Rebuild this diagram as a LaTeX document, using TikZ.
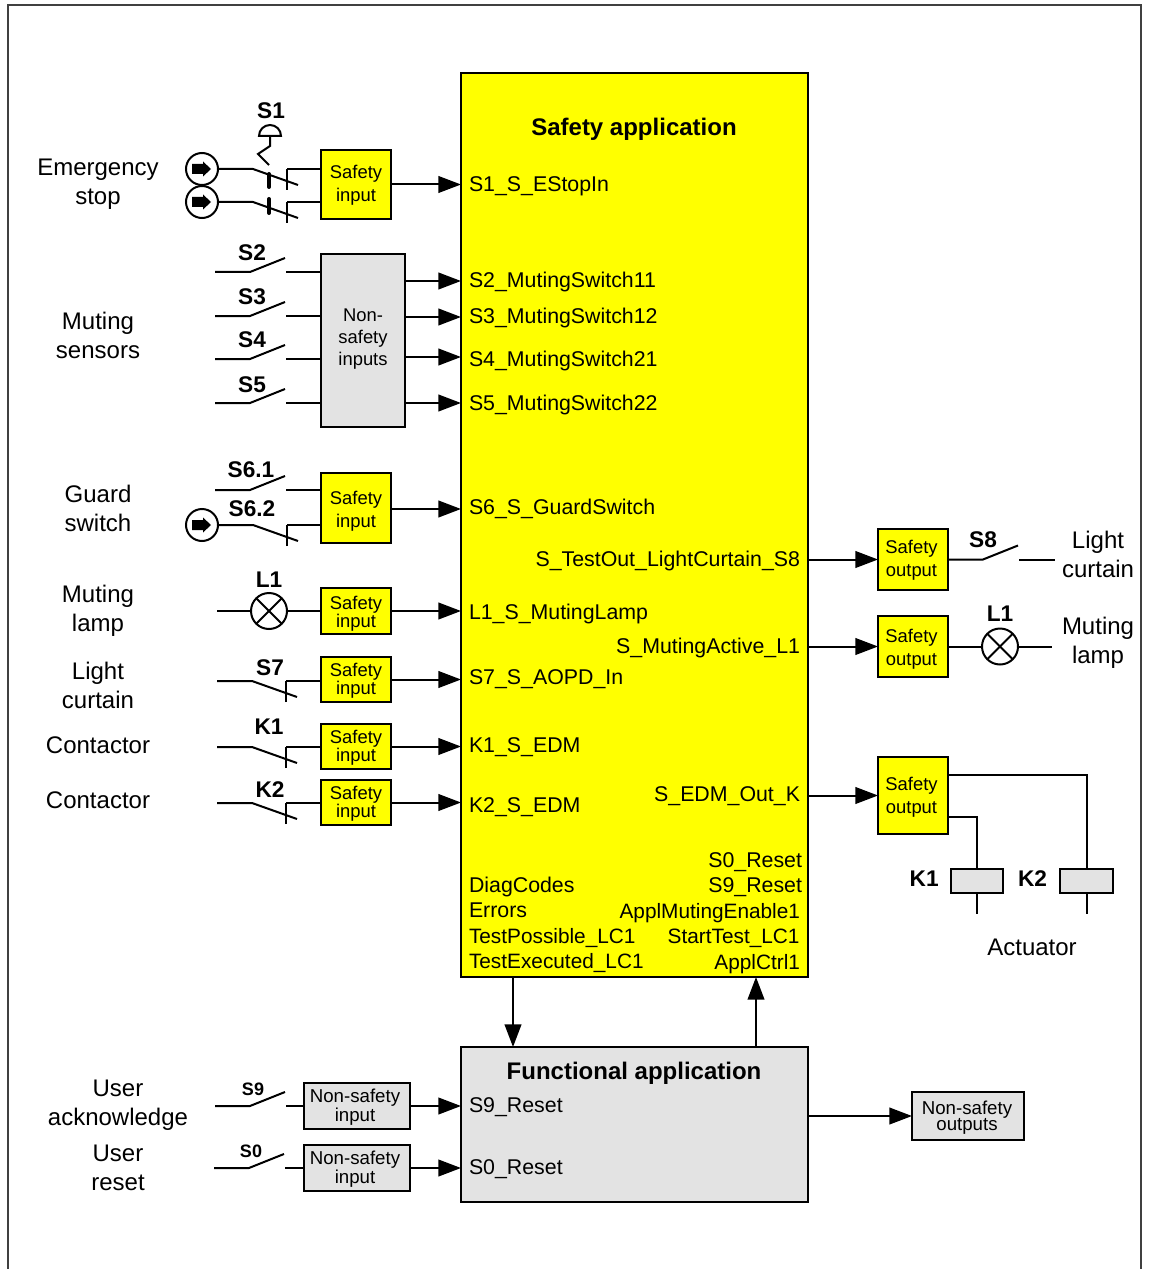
\documentclass[tikz,border=0pt]{standalone}
\usepackage{fontspec}
\setmainfont{Liberation Sans}
\usetikzlibrary{arrows.meta, positioning}
\definecolor{safeyellow}{RGB}{255,255,0}
\definecolor{cardgrey}{RGB}{227,227,227}

\begin{document}
\begin{tikzpicture}[
    x=.75pt, y=-.75pt,
    every node/.style={
        inner sep=0pt,
        outer sep=0pt,
        align=center
    },
    wire/.style={line width=1.5pt, draw=black},
    arrow/.style={wire, -{Triangle[length=17pt, width=12.5pt]}},
    label/.style={font=\fontsize{18}{21.75}\selectfont},
    tag/.style={font=\fontsize{17}{20}\selectfont\bfseries, text height=12.5pt, text depth=0pt},
    smalltag/.style={font=\fontsize{13.5}{16}\selectfont\bfseries, text height=10pt, text depth=0pt},
    title/.style={font=\fontsize{18}{21}\selectfont\bfseries},
    port/.style={font=\fontsize{16}{19}\selectfont, text height=14.5pt, text depth=3.4pt},
    narrow/.style={font=\fontsize{15.6}{19}\selectfont},
    iobox/.style={draw=black, line width=1.5pt, minimum width=52.5pt},
    yellowbox/.style={iobox, fill=safeyellow},
    greybox/.style={iobox, fill=cardgrey},
    nsbox/.style={greybox, minimum width=79.5pt, minimum height=34.5pt},
    looseio/.style={font=\fontsize{13.8}{17}\selectfont},
    tightio/.style={font=\fontsize{13.8}{12.6}\selectfont},
    nstext/.style={font=\fontsize{14}{12}\selectfont},
    coil/.style={draw=black, line width=1.5pt, fill=cardgrey, minimum width=39.5pt, minimum height=18pt},
    srcsym/.style={draw=black, line width=1.5pt, circle, minimum size=24pt, path picture={
        \fill[black, shift={(path picture bounding box.center)}]
            (-10,-5) -- (1,-5) -- (1,-7.5) -- (9,0) -- (1,7.5) -- (1,5) -- (-10,5) -- cycle;
    }},
    lampsym/.style={draw=black, line width=1.5pt, circle, minimum size=27pt, path picture={
        \draw[wire] (path picture bounding box.north west) -- (path picture bounding box.south east);
        \draw[wire] (path picture bounding box.north east) -- (path picture bounding box.south west);
    }},
    nocontact/.pic={
        \draw[wire] (0,0) -- (35,0) -- (70,-14);
        \coordinate (-out) at (71,0);
    },
    nccontact/.pic={
        \draw[wire] (0,0) -- (35,0) -- (80,16);
        \draw[wire] (69,21) -- (69,0);
        \coordinate (-out) at (69,0);
    }
]
\useasboundingbox (0,0) rectangle (1149,1269);

% ------------------------
% Outer frame
% ------------------------
\draw[draw=black!75, line width=1.1pt] (8,1269) -- (8,5) -- (1141,5) -- (1141,1269);

% ------------------------
% Main blocks
% ------------------------
\node (main) [draw=black, line width=1.5pt, fill=safeyellow, minimum width=260.25pt, minimum height=678pt] at (634.5,525) {};
\node (func) [draw=black, line width=1.5pt, fill=cardgrey, minimum width=260.25pt, minimum height=116.25pt] at (634.5,1124.5) {};
\node (safetitle) [title] at (634,129) {Safety application};
\node (functitle) [title] at (634,1073) {Functional application};

% ------------------------
% Ports of the safety application
% ------------------------
\node (p1) [port, anchor=west] at (469,184) {S1\_S\_EStopIn};
\node (p2) [port, anchor=west] at (469,280) {S2\_MutingSwitch11};
\node (p3) [port, anchor=west] at (469,316) {S3\_MutingSwitch12};
\node (p4) [port, anchor=west] at (469,359) {S4\_MutingSwitch21};
\node (p5) [port, anchor=west] at (469,403) {S5\_MutingSwitch22};
\node (p6) [port, anchor=west] at (469,507) {S6\_S\_GuardSwitch};
\node (p7) [port, anchor=west] at (469,612.5) {L1\_S\_MutingLamp};
\node (p8) [port, anchor=west] at (469,677) {S7\_S\_AOPD\_In};
\node (p9) [port, anchor=west] at (469,745) {K1\_S\_EDM};
\node (p10) [port, anchor=west] at (469,805) {K2\_S\_EDM};
\node (diag) [port, anchor=west] at (469,885) {DiagCodes};
\node (errors) [port, anchor=west] at (469,910) {Errors};
\node (testposs) [port, narrow, anchor=west] at (469,936) {TestPossible\_LC1};
\node (testexec) [port, narrow, anchor=west] at (469,961) {TestExecuted\_LC1};
\node (q1) [port, anchor=east] at (800,559) {S\_TestOut\_LightCurtain\_S8};
\node (q2) [port, anchor=east] at (800,646) {S\_MutingActive\_L1};
\node (q3) [port, anchor=east] at (800,794) {S\_EDM\_Out\_K};
\node (r0) [port, anchor=east] at (802,860) {S0\_Reset};
\node (r9) [port, anchor=east] at (802,885) {S9\_Reset};
\node (enable) [port, narrow, anchor=east] at (800,911) {ApplMutingEnable1};
\node (starttest) [port, narrow, anchor=east] at (799.5,936) {StartTest\_LC1};
\node (ctrl) [port, narrow, anchor=east] at (800,962) {ApplCtrl1};
\node (f9) [port, anchor=west] at (469,1105) {S9\_Reset};
\node (f0) [port, anchor=west] at (469,1167) {S0\_Reset};

% ------------------------
% Input and output cards
% ------------------------
\node (si1) [yellowbox, minimum height=51.75pt] at (356,184.5) {};
\node (si1txt) [looseio] at (356,185.5) {Safety\\input};
\node (nsi) [greybox, minimum width=63pt, minimum height=129.75pt] at (363,340.5) {};
\node (nsitxt) [font=\fontsize{13.8}{16.5}\selectfont] at (363,339.5) {Non-\\safety\\inputs};
\node (si6) [yellowbox, minimum height=52.5pt] at (356,507.5) {};
\node (si6txt) [looseio] at (356,511.5) {Safety\\input};
\node (sil) [yellowbox, minimum height=34.5pt] at (356,611) {};
\node (siltxt) [tightio] at (356,614) {Safety\\input};
\node (si7) [yellowbox, minimum height=33.75pt] at (356,679.5) {};
\node (si7txt) [tightio] at (356,680.5) {Safety\\input};
\node (sik1) [yellowbox, minimum height=33.75pt] at (356,746.5) {};
\node (sik1txt) [tightio] at (356,748) {Safety\\input};
\node (sik2) [yellowbox, minimum height=33.75pt] at (356,802.5) {};
\node (sik2txt) [tightio] at (356,804) {Safety\\input};
\node (so1) [yellowbox, minimum height=45.75pt] at (913,559.5) {};
\node (so1txt) [looseio] at (911.5,560.5) {Safety\\output};
\node (so2) [yellowbox, minimum height=45.75pt] at (913,646.5) {};
\node (so2txt) [looseio] at (911.5,649) {Safety\\output};
\node (so3) [yellowbox, minimum height=57.75pt] at (913,795.5) {};
\node (so3txt) [looseio] at (911.5,797) {Safety\\output};
\node (ns9) [nsbox] at (357,1106) {};
\node (ns9txt) [nstext] at (355,1107) {Non-safety\\input};
\node (ns0) [nsbox] at (357,1168) {};
\node (ns0txt) [nstext] at (355,1169) {Non-safety\\input};
\node (nso) [nsbox, minimum width=84pt, minimum height=36pt] at (968,1116) {};
\node (nsotxt) [nstext] at (967,1117.5) {Non-safety\\outputs};

% ------------------------
% Emergency stop
% ------------------------
\node (src1) [srcsym] at (202,169) {};
\node (src2) [srcsym] at (202,202) {};
\pic (s1a) at (src1.east) {nccontact};
\pic (s1b) at (src2.east) {nccontact};
\draw[wire] (s1a-out) -- (si1.west |- s1a-out);
\draw[wire] (s1b-out) -- (si1.west |- s1b-out);
\draw[line width=3pt, line cap=round, draw=black] (269,174) -- (269,187);
\draw[line width=3pt, line cap=round, draw=black] (269,199) -- (269,213);
\draw[wire] (270,136) -- (270,146) -- (258,154) -- (269,165);
\draw[wire] (259,136) arc[start angle=180, end angle=360, radius=11] -- cycle;
\node (tagS1) [tag] at (271,110) {S1};

% ------------------------
% Muting sensors
% ------------------------
\pic (s2) at (215,272) {nocontact};
\pic (s3) at (215,316) {nocontact};
\pic (s4) at (215,359) {nocontact};
\pic (s5) at (215,403) {nocontact};
\draw[wire] (s2-out) -- (nsi.west |- s2-out);
\draw[wire] (s3-out) -- (nsi.west |- s3-out);
\draw[wire] (s4-out) -- (nsi.west |- s4-out);
\draw[wire] (s5-out) -- (nsi.west |- s5-out);
\node (tagS2) [tag] at (252,252) {S2};
\node (tagS3) [tag] at (252,296) {S3};
\node (tagS4) [tag] at (252,339) {S4};
\node (tagS5) [tag] at (252,384) {S5};

% ------------------------
% Guard switch
% ------------------------
\pic (s61) at (215,490) {nocontact};
\draw[wire] (s61-out) -- (si6.west |- s61-out);
\node (src3) [srcsym] at (202,525) {};
\pic (s62) at (src3.east) {nccontact};
\draw[wire] (s62-out) -- (si6.west |- s62-out);
\node (tagS61) [tag] at (251,469.5) {S6.1};
\node (tagS62) [tag] at (252,508) {S6.2};

% ------------------------
% Lamp, light curtain, contactors
% ------------------------
\coordinate (lampin) at (217,611);
\node (lampa) [lampsym] at (269,611) {};
\draw[wire] (lampin) -- (lampa);
\draw[wire] (lampa) -- (sil);
\node (tagL1) [tag, above=4.5pt of lampa] {L1};
\pic (s7) at (217,681) {nccontact};
\pic (k1c) at (217,747) {nccontact};
\pic (k2c) at (217,803) {nccontact};
\draw[wire] (s7-out) -- (si7.west |- s7-out);
\draw[wire] (k1c-out) -- (sik1.west |- k1c-out);
\draw[wire] (k2c-out) -- (sik2.west |- k2c-out);
\node (tagS7) [tag] at (270,667) {S7};
\node (tagK1) [tag] at (269,726) {K1};
\node (tagK2) [tag] at (270,789) {K2};

% ------------------------
% User inputs
% ------------------------
\pic (s9) at (215,1106) {nocontact};
\pic (s0) at (214,1168) {nocontact};
\draw[wire] (s9-out) -- (ns9);
\draw[wire] (s0-out) -- (ns0);
\node (tagS9) [smalltag] at (253,1089) {S9};
\node (tagS0) [smalltag] at (251,1151) {S0};

% ------------------------
% Outputs
% ------------------------
\pic (s8) at (so1.east) {nocontact};
\coordinate (s8end) at (1055,559.5);
\draw[wire] (s8-out) -- (s8end);
\node (tagS8) [tag] at (983,539) {S8};
\node (lampb) [lampsym] at (1000,646.5) {};
\coordinate (lampend) at (1052,646.5);
\draw[wire] (so2) -- (lampb);
\draw[wire] (lampb) -- (lampend);
\node (tagL1b) [tag, above=5.5pt of lampb] {L1};
\node (k1coil) [coil] at (977,881) {};
\node (k2coil) [coil, right=42.75pt of k1coil] {};
\coordinate (k1end) at (977,914);
\coordinate (k2end) at (k2coil.south |- k1end);
\draw[wire] (so3.east |- 0,817) -| (k1coil.north);
\draw[wire] (so3.east |- 0,775) -| (k2coil.north);
\draw[wire] (k1coil.south) -- (k1end);
\draw[wire] (k2coil.south) -- (k2end);
\node (tagK1b) [tag, left=9pt of k1coil, yshift=2.25pt] {K1};
\node (tagK2b) [tag, left=10pt of k2coil, yshift=2.25pt] {K2};

% ------------------------
% Side labels
% ------------------------
\node (lblEstop) [label] at (98,184) {Emergency\\stop};
\node (lblMuting) [label] at (98,335.5) {Muting\\sensors};
\node (lblGuard) [label] at (98,508.5) {Guard\\switch};
\node (lblLampa) [label] at (98,610.5) {Muting\\lamp};
\node (lblCurtaina) [label] at (98,685.5) {Light\\curtain};
\node (lblK1) [label] at (98,745) {Contactor};
\node (lblK2) [label] at (98,800) {Contactor};
\node (lblAck) [label] at (118,1105) {User\\acknowledge};
\node (lblReset) [label] at (118,1167.5) {User\\reset};
\node (lblCurtainb) [label] at (1098,554.5) {Light\\curtain};
\node (lblLampb) [label] at (1098,643) {Muting\\lamp};
\node (lblAct) [label] at (1032,947) {Actuator};

% ------------------------
% Arrows
% ------------------------
\draw[arrow] (si1) -- (main.west |- si1);
\draw[arrow] (nsi.east |- 0,281) -- (main.west |- 0,281);
\draw[arrow] (nsi.east |- 0,317) -- (main.west |- 0,317);
\draw[arrow] (nsi.east |- 0,357) -- (main.west |- 0,357);
\draw[arrow] (nsi.east |- 0,403) -- (main.west |- 0,403);
\draw[arrow] (si6.east |- 0,509) -- (main.west |- 0,509);
\draw[arrow] (sil) -- (main.west |- sil);
\draw[arrow] (si7) -- (main.west |- si7);
\draw[arrow] (sik1) -- (main.west |- sik1);
\draw[arrow] (sik2) -- (main.west |- sik2);
\draw[arrow] (main.east |- so1) -- (so1);
\draw[arrow] (main.east |- so2) -- (so2);
\draw[arrow] (main.east |- so3) -- (so3);
\draw[arrow] (ns9) -- (func.west |- ns9);
\draw[arrow] (ns0) -- (func.west |- ns0);
\draw[arrow] (main.south -| 513,0) -- (func.north -| 513,0);
\draw[arrow] (func.north -| 756,0) -- (main.south -| 756,0);
\draw[arrow] (func.east |- nso) -- (nso);

\end{tikzpicture}
\end{document}
